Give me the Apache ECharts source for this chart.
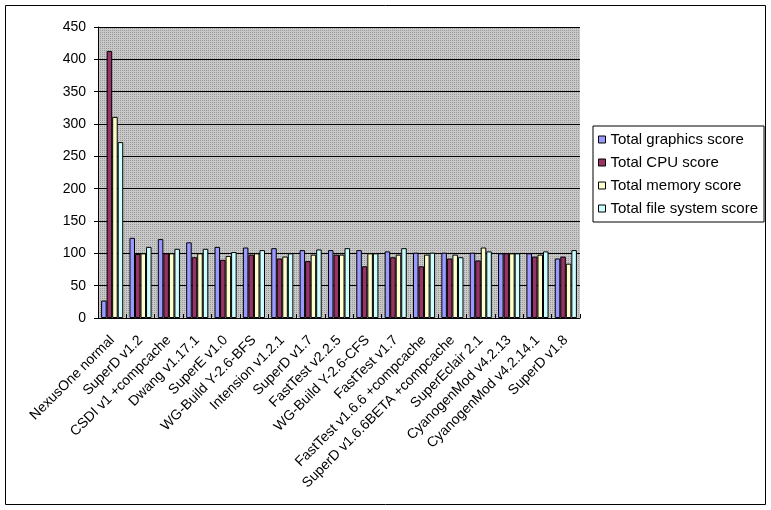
<!DOCTYPE html>
<html><head><meta charset="utf-8">
<script src="https://cdn.jsdelivr.net/npm/echarts@6/dist/echarts.min.js"></script>
<style>html,body{margin:0;padding:0;background:#fff}#c{width:771px;height:510px}</style>
</head><body><div id="c"></div>
<script>
const categories = ["NexusOne normal","SuperD v1.2","CSDI v1 +compcache","Dwang v1.17.1","SuperE v1.0","WG-Build Y-2.6-BFS","Intension v1.2.1","SuperD v1.7","FastTest v2.2.5","WG-Build Y-2.6-CFS","FastTest v1.7","FastTest v1.6.6 +compcache","SuperD v1.6.6BETA +compcache","SuperEclair 2.1","CyanogenMod v4.2.13","CyanogenMod v4.2.14.1","SuperD v1.8"];
const graphics = [27,124,122,117,110,109,108,105,105,105,103,101,101,101,100,100,92];
const cpu      = [413,99,100,94,90,98,92,88,98,80,94,80,92,89,100,95,95];
const memory   = [311,100,100,100,96,100,95,98,98,100,98,98,98,109,100,98,84];
const filesys  = [272,110,107,107,102,105,100,106,108,100,108,101,94,103,100,103,105];
const yTicks = [0,50,100,150,200,250,300,350,400,450];

const pc = document.createElement('canvas'); pc.width = 2; pc.height = 2;
const g = pc.getContext('2d');
g.fillStyle = '#c8c8c8'; g.fillRect(0,0,2,2);
g.fillStyle = '#9a9a9a'; g.fillRect(0,0,1,1);

const FONT = 'Liberation Sans';
const chart = echarts.init(document.getElementById('c'));
const mk = (name, data, color) => ({
  name, type: 'bar', data, barGap: '0%', barCategoryGap: '22%',
  itemStyle: { color, borderColor: '#000', borderWidth: 1 }, animation: false
});
chart.setOption({
  animation: false,
  textStyle: { fontFamily: FONT, color: '#000' },
  graphic: [{ type: 'rect', shape: { x: 5.5, y: 5.5, width: 760, height: 499 },
    style: { fill: null, stroke: '#000', lineWidth: 1 }, z: -1 }],
  grid: { left: 98, top: 27, right: 191, bottom: 192, show: true,
    backgroundColor: { image: pc, repeat: 'repeat' }, borderWidth: 0 },
  legend: { orient: 'vertical', left: 593, top: 126, icon: 'rect', itemWidth: 7, itemHeight: 7,
    itemGap: 8, padding: [6, 6, 6, 5], borderColor: '#000', borderWidth: 1, backgroundColor: '#fff',
    itemStyle: { borderColor: '#000', borderWidth: 1 },
    textStyle: { fontFamily: FONT, fontSize: 15, color: '#000' } },
  xAxis: { type: 'category', data: categories,
    axisLine: { lineStyle: { color: '#000', width: 1 } },
    axisTick: { show: true, inside: true, length: 4, lineStyle: { color: '#000' } },
    axisLabel: { interval: 0, rotate: 45, fontSize: 14, fontFamily: FONT, color: '#000', margin: 20 } },
  yAxis: { type: 'value', min: 0, max: 450, interval: 50,
    axisLine: { show: true, lineStyle: { color: '#000', width: 1 } },
    axisTick: { show: true, length: 4, lineStyle: { color: '#000' } },
    splitLine: { show: true, lineStyle: { color: '#000', width: 1 } },
    axisLabel: { fontSize: 14, fontFamily: FONT, color: '#000', margin: 12,
      formatter: v => yTicks.includes(v) ? String(v) : '' } },
  series: [
    mk('Total graphics score', graphics, '#9999FF'),
    mk('Total CPU score', cpu, '#993366'),
    mk('Total memory score', memory, '#FFFFCC'),
    mk('Total file system score', filesys, '#CCFFFF')
  ]
});
</script></body></html>
